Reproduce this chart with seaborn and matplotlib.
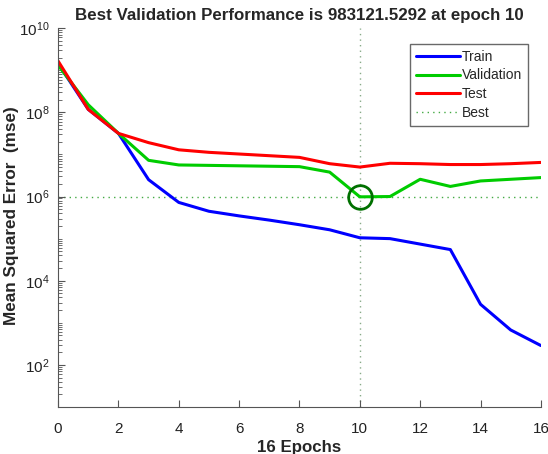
import numpy as np
import pandas as pd
import matplotlib
matplotlib.use("Agg")
import matplotlib.pyplot as plt
from matplotlib.ticker import LogLocator, NullFormatter
import seaborn as sns

# values (mse per epoch, log10 estimated from pixels)
epochs = list(range(17))
train_log = [9.16, 8.07, 7.50, 6.40, 5.86, 5.65, 5.54, 5.44, 5.33, 5.21, 5.02, 5.00, 4.87, 4.74, 3.44, 2.83, 2.46]
val_log = [9.12, 8.18, 7.50, 6.86, 6.75, 6.74, 6.73, 6.72, 6.71, 6.58, 5.9926, 6.00, 6.41, 6.24, 6.37, 6.41, 6.45]
test_log = [9.22, 8.07, 7.50, 7.28, 7.11, 7.05, 7.01, 6.97, 6.93, 6.78, 6.70, 6.79, 6.78, 6.76, 6.76, 6.78, 6.81]
best_epoch = 10
best_perf = 983121.5292
y_ticks = [1e2, 1e4, 1e6, 1e8, 1e10]

series_names = ["Train", "Validation", "Test"]
colors = {"Train": "#0000ff", "Validation": "#00cc00", "Test": "#ff0000"}

df = pd.DataFrame({
    "epoch": epochs * 3,
    "mse": np.power(10.0, train_log + val_log + test_log),
    "set": ["Train"] * 17 + ["Validation"] * 17 + ["Test"] * 17,
})

sns.set_style("white")
plt.rcParams["font.family"] = ["Liberation Sans", "DejaVu Sans"]
plt.rcParams["xtick.direction"] = "in"
plt.rcParams["ytick.direction"] = "in"

fig, ax = plt.subplots(figsize=(5.48, 4.54), dpi=100)
fig.subplots_adjust(left=0.106, right=0.987, bottom=0.1035, top=0.938)

sns.lineplot(data=df, x="epoch", y="mse", hue="set", hue_order=series_names,
             palette=colors, linewidth=2.2, ax=ax, legend=False)

# best validation markers
ax.axhline(best_perf, color="#44aa44", linestyle=(0, (1, 3)), linewidth=1, zorder=0)
ax.axvline(best_epoch, color="#88aa88", linestyle=(0, (1, 3)), linewidth=1, zorder=0)
ax.plot([best_epoch], [best_perf], marker="o", markersize=17, markerfacecolor="none",
        markeredgecolor="#007000", markeredgewidth=2, linestyle="none")

ax.set_yscale("log")
ax.set_xlim(0, 16)
ax.set_ylim(10, 1e10)
ax.set_xticks(range(0, 17, 2))
ax.set_yticks(y_ticks)
ax.yaxis.set_minor_locator(LogLocator(base=10, subs=np.arange(1, 10), numticks=100))
ax.yaxis.set_minor_formatter(NullFormatter())
ax.tick_params(axis="both", which="major", labelsize=11, labelcolor="#222222",
               length=5, width=0.8, color="#555555", left=True, bottom=True)
ax.tick_params(axis="x", which="major", pad=11)
ax.tick_params(axis="y", which="major", pad=6)
ax.tick_params(axis="y", which="minor", length=3, width=0.6, color="#555555", left=True)

for side in ["top", "right"]:
    ax.spines[side].set_visible(False)
for side in ["left", "bottom"]:
    ax.spines[side].set_color("#555555")
    ax.spines[side].set_linewidth(0.8)

ax.set_title("Best Validation Performance is 983121.5292 at epoch 10",
             fontsize=12.2, fontweight="bold", pad=6)
ax.set_xlabel("16 Epochs", fontsize=12.2, fontweight="bold", labelpad=3)
ax.set_ylabel("Mean Squared Error  (mse)", fontsize=12.3, fontweight="bold")
ax.yaxis.set_label_coords(-0.081, 0.505)

handles = [
    plt.Line2D([], [], color=colors["Train"], linewidth=2.2),
    plt.Line2D([], [], color=colors["Validation"], linewidth=2.2),
    plt.Line2D([], [], color=colors["Test"], linewidth=2.2),
    plt.Line2D([], [], color="#44aa44", linestyle=(0, (1, 3)), linewidth=1),
]
leg = ax.legend(handles, ["Train", "Validation", "Test", "Best"], loc="upper right",
                bbox_to_anchor=(0.973, 0.958), fontsize=10, frameon=True, fancybox=False,
                handlelength=3.2, handletextpad=0.15, labelspacing=0.35, borderpad=0.4,
                borderaxespad=0)
leg.get_frame().set_edgecolor("#444444")
leg.get_frame().set_linewidth(1)

fig.savefig("out.png", dpi=100)
